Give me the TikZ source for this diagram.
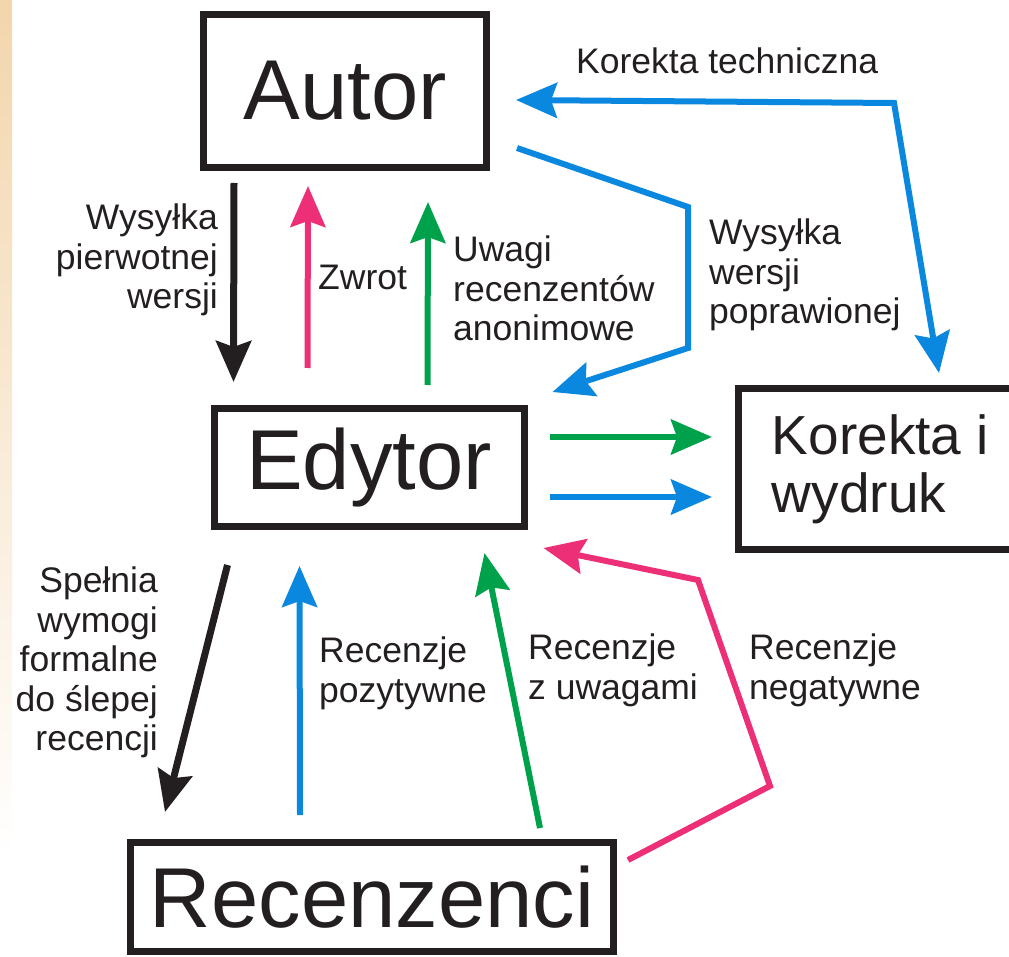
\documentclass[tikz,border=0pt]{standalone}
\usepackage{fontspec}
\setmainfont{Liberation Sans}
\usetikzlibrary{arrows.meta,calc}
\definecolor{inkBlack}{HTML}{231F20}
\definecolor{revBlue}{HTML}{0A87DE}
\definecolor{revPink}{HTML}{EC2F76}
\definecolor{revGreen}{HTML}{00A14B}
\definecolor{peach}{HTML}{F2D6AC}
\tikzset{
  box/.style={draw=inkBlack, line width=7pt, inner sep=0pt, text=inkBlack,
    font=\fontsize{85}{90}\selectfont},
  arr/.style={->, line width=6pt, draw=#1},
  note/.style={font=\fontsize{35.5}{39.5}\selectfont, text=inkBlack, inner sep=0pt}
}

\begin{document}
\begin{tikzpicture}[x=1pt,y=-1pt,>={Stealth[length=41pt,width=35pt,inset=6pt]}]
  \useasboundingbox (0,0) rectangle (1009,957);
  \shade[top color=peach, bottom color=white] (0,0) rectangle (12,860);

  % boxes
  \node[box, minimum width=283pt, minimum height=153pt] (autor) at (345,91) {Autor};
  \node[box, minimum width=310pt, minimum height=118pt] (edytor) at (369,467.5) {Edytor};
  \node[box, minimum width=483pt, minimum height=109pt] (recenzenci) at (372,897) {Recenzenci};
  \node[box, minimum width=284pt, minimum height=161pt, align=left,
    font=\fontsize{55}{58}\selectfont] (korekta) at (880.5,469) {Korekta i\\wydruk};

  % autor <-> edytor
  \draw[arr=inkBlack, line width=7pt] ($(autor.south west)+(34,12)$) -- ($(edytor.north west)+(23,-23)$);
  \draw[arr=revPink] ($(edytor.north west)+(97,-37)$) -- ($(autor.south west)+(108,15)$);
  \draw[arr=revGreen] ($(edytor.north west)+(217,-20)$) -- ($(autor.south west)+(228,31)$);
  \draw[arr=revBlue] ($(autor.east)+(27,57)$) -- ++(171,59) -- ++(0,141) -- ($(edytor.north east)+(25,-13)$);
  \draw[arr=revBlue, <->] ($(autor.east)+(26,9)$) -- ++(378,3) -- ($(korekta.north west)+(204,-12)$);

  % edytor -> korekta
  \draw[arr=revGreen] ($(edytor.east)+(22.5,-30.5)$) -- ($(korekta.west)+(-23,-32)$);
  \draw[arr=revBlue] ($(edytor.east)+(22.5,29.5)$) -- ($(korekta.west)+(-23,28)$);

  % edytor <-> recenzenci
  \draw[arr=inkBlack, line width=7pt] ($(edytor.south west)+(17,35)$) -- ($(recenzenci.north west)+(38,-27)$);
  \draw[arr=revBlue] ($(recenzenci.north west)+(173,-24)$) -- ($(edytor.south west)+(89,36)$);
  \draw[arr=revGreen] ($(recenzenci.north west)+(413,-11)$) -- ($(edytor.south west)+(274,23)$);
  \draw[arr=revPink] ($(recenzenci.north east)+(11,21)$) -- ++(142,-74) -- ++(-72,-206) -- ($(edytor.south east)+(16,18)$);

  % labels
  \node[note, align=right, anchor=north east] (l1) at (218,204) {Wysyłka\\pierwotnej\\wersji};
  \node[note, anchor=base west] (l2) at (318,290) {Zwrot};
  \node[note, align=left, anchor=north west] (l3) at (453,236) {Uwagi\\recenzentów\\anonimowe};
  \node[note, anchor=base west] (l4) at (576,74) {Korekta techniczna};
  \node[note, align=left, anchor=north west] (l5) at (709,219) {Wysyłka\\wersji\\poprawionej};
  \node[note, align=right, anchor=north east] (l6) at (158,567) {Spełnia\\wymogi\\formalne\\do ślepej\\recencji};
  \node[note, align=left, anchor=north west] (l7) at (319,637) {Recenzje\\pozytywne};
  \node[note, align=left, anchor=north west] (l8) at (528,634) {Recenzje\\z uwagami};
  \node[note, align=left, anchor=north west] (l9) at (749,634) {Recenzje\\negatywne};
\end{tikzpicture}
\end{document}
